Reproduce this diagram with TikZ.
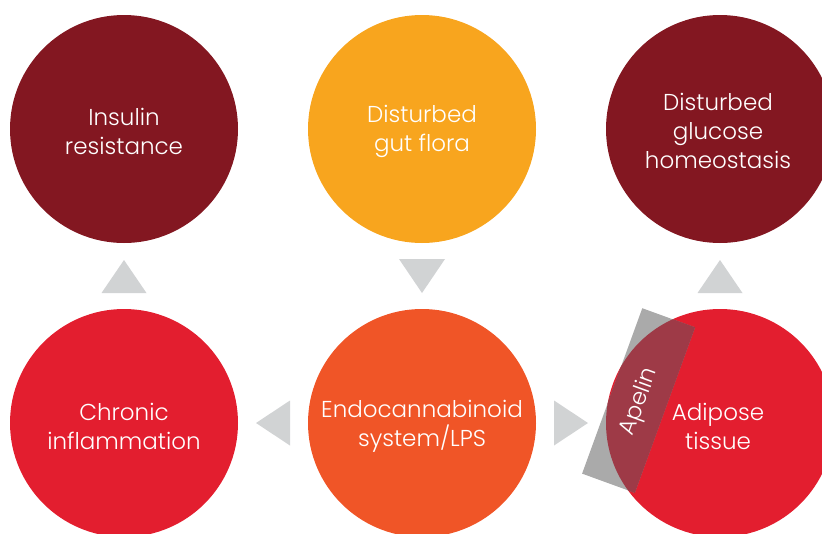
\documentclass[tikz,border=0pt]{standalone}
\usepackage{fontspec}
\setmainfont{Poppins}[UprightFont=* Light]
\usetikzlibrary{calc}
\definecolor{maroon}{HTML}{831721}
\definecolor{amber}{HTML}{F8A51E}
\definecolor{crimson}{HTML}{E31E2F}
\definecolor{flame}{HTML}{F05527}
\definecolor{arrowgray}{HTML}{D1D3D4}
\definecolor{boxgray}{HTML}{AAAAAA}
\definecolor{overlap}{HTML}{9E3A47}
\tikzset{
  bubble/.style={circle, minimum size=228pt, inner sep=0pt},
  lbl/.style={text=white, align=center, font=\fontsize{23}{29}\selectfont},
  tri/.style={fill=arrowgray},
}
\begin{document}
\begin{tikzpicture}[x=1pt,y=-1pt]
\useasboundingbox (0,0) rectangle (822,533);
% circles
\node[bubble, fill=maroon] (ir) at (124,129) {};
\node[bubble, fill=amber] (gut) at (422,129) {};
\node[bubble, fill=maroon] (glu) at (720,129) {};
\node[bubble, fill=crimson] (inf) at (124,423) {};
\node[bubble, fill=flame] (eco) at (422,423) {};
\node[bubble, fill=crimson] (adi) at (720,423) {};
% labels
\node[lbl] (irt) at ($(ir)+(0,2)$) {Insulin\\resistance};
\node[lbl] (gutt) at ($(gut)+(0,2)$) {Disturbed\\gut flora};
\node[lbl] (glut) at ($(glu)+(-2,2)$) {Disturbed\\glucose\\homeostasis};
\node[lbl] (inft) at ($(inf)+(0,3)$) {Chronic\\inflammation};
\node[lbl] (ecot) at ($(eco)+(0,3)$) {Endocannabinoid\\system/LPS};
% apelin box
\node[rectangle, fill=boxgray, minimum width=176pt, minimum height=56pt, inner sep=0pt, rotate=70] (apelinbox) at (638.5,400.5) {};
\begin{scope}
  \clip (adi.center) circle (114);
  \fill[overlap] (apelinbox.north west) -- (apelinbox.north east) -- (apelinbox.south east) -- (apelinbox.south west) -- cycle;
\end{scope}
\node[lbl, rotate=70] (apelin) at ($(apelinbox.center)+(1,1)$) {Apelin};
\node[lbl] (adit) at ($(adi)+(-2,3)$) {Adipose\\tissue};
% triangles
\coordinate (t1) at (124,260);
\fill[tri] (t1) -- ++(-22.5,33) -- ++(45,0) -- cycle;
\coordinate (t2) at (422,293);
\fill[tri] (t2) -- ++(-23,-34) -- ++(46,0) -- cycle;
\coordinate (t3) at (720,260);
\fill[tri] (t3) -- ++(-22.5,33) -- ++(45,0) -- cycle;
\coordinate (t4) at (256,423);
\fill[tri] (t4) -- ++(34,-22.5) -- ++(0,45) -- cycle;
\coordinate (t5) at (588,423);
\fill[tri] (t5) -- ++(-34,-22.5) -- ++(0,45) -- cycle;
\end{tikzpicture}
\end{document}
